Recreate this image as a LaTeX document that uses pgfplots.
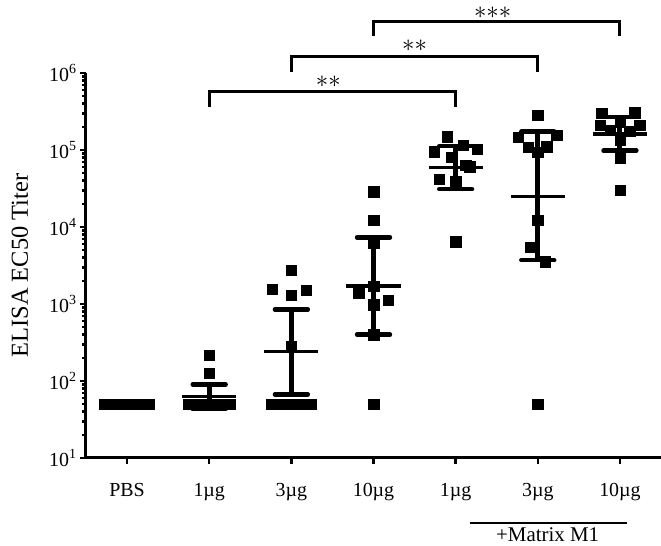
\documentclass[border=0pt]{standalone}
\usepackage{fontspec}
\setmainfont{Liberation Serif}
\usepackage{pgfplots}
\usepackage{pgfplotstable}
\pgfplotsset{compat=1.18}

% individual titers (x = group + jitter)
\pgfplotstableread{
x y
-0.27 50
-0.21 50
-0.15 50
-0.09 50
-0.03 50
0.03 50
0.09 50
0.15 50
0.21 50
0.27 50
1 218
1 126
0.75 50
0.82 50
0.89 50
0.96 50
1.04 50
1.11 50
1.18 50
1.25 50
2 2750
1.77 1550
2 1310
2.18 1520
2 280
1.76 50
1.88 50
2 50
2.12 50
2.24 50
3 28700
3 12300
3 6200
3 1715
2.82 1400
3.18 1120
3 980
3 400
3 50
3.9 149000
3.74 95000
4.09 116000
4.26 102000
3.95 80000
4.12 63000
4.17 61000
3.8 41700
4 38800
4 6450
5 285000
4.76 146000
5.23 157000
4.88 108000
5.11 110000
5 94000
5 12300
4.91 5450
5.09 3550
5 50
5.78 299000
6.18 305000
5.76 211000
6.24 211000
6 234000
5.88 182000
6.12 175000
6 135000
6 78000
6 30000
}\pts

% geometric means
\pgfplotstableread{
x y
-0.33 50
0.33 50
nan nan
0.67 62.5
1.33 62.5
nan nan
1.67 240
2.33 240
nan nan
2.67 1715
3.33 1715
nan nan
3.67 58900
4.33 58900
nan nan
4.67 24800
5.33 24800
nan nan
5.67 162000
6.33 162000
}\means

% SD bars
\pgfplotstableread{
x y
1 43
1 90.6
nan nan
2 67
2 850
nan nan
3 400
3 7350
nan nan
4 31000
4 112000
nan nan
5 3700
5 174000
nan nan
6 98000
6 270000
}\bars

\pgfplotstableread{
x y
0.8 43
1.2 43
nan nan
0.8 90.6
1.2 90.6
nan nan
1.8 67
2.2 67
nan nan
1.8 850
2.2 850
nan nan
2.8 400
3.2 400
nan nan
2.8 7350
3.2 7350
nan nan
3.8 31000
4.2 31000
nan nan
3.8 112000
4.2 112000
nan nan
4.8 3700
5.2 3700
nan nan
4.8 174000
5.2 174000
nan nan
5.8 98000
6.2 98000
nan nan
5.8 270000
6.2 270000
}\caps

\begin{document}
\begin{tikzpicture}
\begin{axis}[
  scale only axis,
  width=575bp, height=385bp,
  ymode=log, ymin=10, ymax=1e6,
  xmin=-0.5, xmax=6.5,
  axis x line*=bottom, axis y line*=left,
  axis line style={line width=3bp},
  tick align=outside,
  major tick length=6bp, minor tick length=3.5bp,
  every tick/.style={black, line width=2.5bp},
  xtick={0,...,6},
  xticklabels={PBS,1µg,3µg,10µg,1µg,3µg,10µg},
  ytick={10,100,1000,10000,100000,1000000},
  yticklabels={10\textsuperscript{1},10\textsuperscript{2},10\textsuperscript{3},10\textsuperscript{4},10\textsuperscript{5},10\textsuperscript{6}},
  tick label style={font=\fontsize{20}{23}\selectfont},
  xticklabel style={yshift=-16bp},
  ylabel={ELISA EC50 Titer},
  ylabel style={font=\fontsize{24.5}{27}\selectfont, at={(axis description cs:-0.115,0.5)}, anchor=center},
  unbounded coords=jump,
  clip=false,
]
\coordinate (sw) at (rel axis cs:0,0);
\coordinate (ne) at (rel axis cs:1,1);
\addplot[only marks, mark=square*, mark size=5.2bp, mark options={fill=black, draw=none}] table {\pts};
\addplot[black, line width=3.5bp] table {\means};
\addplot[black, line width=5bp] table {\bars};
\addplot[black, line width=4.5bp, line cap=round] table {\caps};

% significance brackets
\draw[line width=3bp] (axis cs:1,365000) -- (axis cs:1,571000) -- (axis cs:4,571000) -- (axis cs:4,365000);
\draw[line width=3bp] (axis cs:2,1040000) -- (axis cs:2,1629000) -- (axis cs:5,1629000) -- (axis cs:5,1040000);
\draw[line width=3bp] (axis cs:3,3025000) -- (axis cs:3,4635000) -- (axis cs:6,4635000) -- (axis cs:6,3025000);
\node[font=\fontsize{28}{30}\selectfont, inner sep=0pt] at (axis cs:2.45,770000) {${\ast}{\ast}$};
\node[font=\fontsize{28}{30}\selectfont, inner sep=0pt] at (axis cs:3.5,2250000) {${\ast}{\ast}$};
\node[font=\fontsize{28}{30}\selectfont, inner sep=0pt] at (axis cs:4.45,6100000) {${\ast}{\ast}{\ast}$};

% group label
\draw[line width=2bp] ([yshift=-65bp]axis cs:4.17,10) -- ([yshift=-65bp]axis cs:6.085,10);
\node[font=\fontsize{21}{24}\selectfont, inner sep=0pt] at ([yshift=-77bp]axis cs:5.12,10) {+Matrix M1};
\end{axis}
\pgfresetboundingbox
\path[use as bounding box] ([shift={(-86bp,-88bp)}]sw) rectangle ([shift={(0bp,73bp)}]ne);
\end{tikzpicture}
\end{document}
